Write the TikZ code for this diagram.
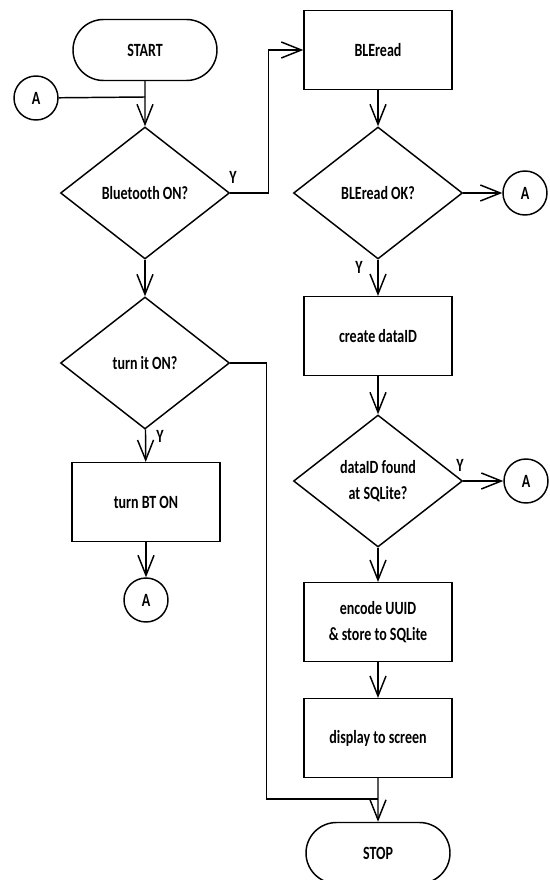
\documentclass[tikz,border=0pt]{standalone}
\usepackage{fontspec}
\setmainfont{Carlito}[FakeStretch=0.75]
\usetikzlibrary{shapes.geometric,shapes.misc,arrows.meta}
\begin{document}
\begin{tikzpicture}[x=0.75pt,y=-0.75pt,
  every node/.style={font=\fontsize{14}{19.5}\selectfont\bfseries, align=center},
  line/.style={line width=1.1pt, black},
  arr/.style={line, -{Straight Barb[length=15pt,width=12pt,line width=1.1pt]}},
  procbox/.style={draw, line width=1.1pt, minimum width=111pt, minimum height=59pt, inner sep=0},
  decide/.style={draw, line width=1.1pt, diamond, minimum width=126.75pt, minimum height=99pt, inner sep=0},
  conn/.style={draw, line width=1.1pt, circle, minimum size=33pt, inner sep=0},
  term/.style={draw, line width=1.1pt, rounded rectangle, minimum width=108pt, minimum height=45.75pt, inner sep=0},
  ylab/.style={font=\fontsize{14}{16}\selectfont\bfseries}]
\path[use as bounding box] (0,0) rectangle (549,880);
\clip (0,0) rectangle (549,880);
% left column
\node[term] (start) at (145,50) {START};
\node[conn] (a1) at (36,98) {A};
\node[decide] (d1) at (145,193) {Bluetooth ON?};
\node[decide] (d2) at (145,363) {turn it ON?};
\node[procbox] (bt) at (146,502) {turn BT ON};
\node[conn] (a2) at (146,600) {A};
% right column
\node[procbox] (ble) at (378,50) {BLEread};
\node[decide] (d3) at (378,193) {BLEread OK?};
\node[conn] (a3) at (525,193) {A};
\node[procbox] (create) at (378,336) {create dataID};
\node[decide] (d4) at (378,481) {dataID found\\at SQLite?};
\node[conn] (a4) at (526,481) {A};
\node[procbox] (enc) at (378,622) {encode UUID\\\& store to SQLite};
\node[procbox] (disp) at (378,738) {display to screen};
\node[term] (stop) at (378,853) {STOP};
% junctions
\coordinate (j1) at (145,97);
\coordinate (j2) at (378,799);
% connectors
\draw[line] (a1) -- (j1);
\draw[arr] (start) -- (d1);
\draw[arr] (d1.east) -- ++(38,0) |- (ble.west);
\draw[arr] (d1) -- (d2);
\draw[arr] (d2) -- (bt);
\draw[line] (d2.east) -- ++(36,0) |- (j2);
\draw[arr] (bt) -- (a2);
\draw[arr] (ble) -- (d3);
\draw[arr] (d3) -- (a3);
\draw[arr] (d3) -- (create);
\draw[arr] (create) -- (d4);
\draw[arr] (d4) -- (a4);
\draw[arr] (d4) -- (enc);
\draw[arr] (enc) -- (disp);
\draw[arr] (disp) -- (stop);
% labels
\node[ylab] (y1) at (233,177) {Y};
\node[ylab] (y2) at (160,436) {Y};
\node[ylab] (y3) at (359,267) {Y};
\node[ylab] (y4) at (460,465) {Y};
\end{tikzpicture}
\end{document}
